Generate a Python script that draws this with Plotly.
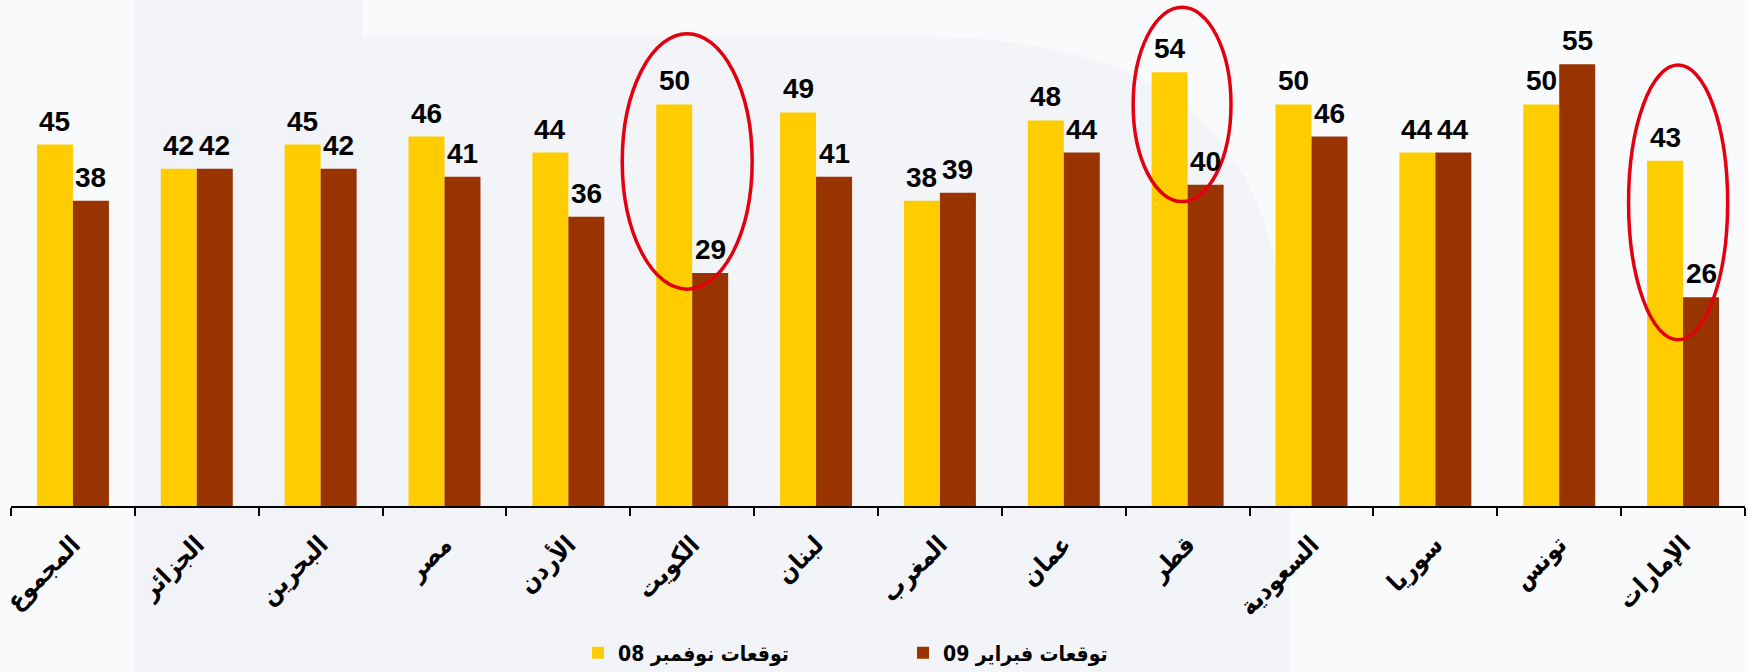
import plotly.graph_objects as go

# ---- data ----
countries = ["المجموع", "الجزائر", "البحرين", "مصر", "الأردن", "الكويت", "لبنان",
             "المغرب", "عمان", "قطر", "السعودية", "سوريا", "تونس", "الإمارات"]
nov08 = [45, 42, 45, 46, 44, 50, 49, 38, 48, 54, 50, 44, 50, 43]
feb09 = [38, 42, 42, 41, 36, 29, 41, 39, 44, 40, 46, 44, 55, 26]
series_names = ["توقعات نوفمبر 08", "توقعات فبراير 09"]
series_colors = ["#FFCC00", "#993300"]

# highlighted groups (category index range, value range)
highlight_x0 = [4.435, 8.56, 12.56]
highlight_x1 = [5.484, 9.35, 13.36]
highlight_y0 = [27.0, 37.9, 20.7]
highlight_y1 = [58.8, 62.1, 54.9]

# ---- layout geometry ----
W, H = 1748, 672
ML, MR, MT, MB = 11, 3, 0, 166
BARGAP = 0.419
plot_w = W - ML - MR
plot_h = H - MT - MB
cat_px = plot_w / len(countries)
bar_px = cat_px * (1 - BARGAP) / 2

FONT = "Liberation Sans, Arial, DejaVu Sans, sans-serif"
AFONT = "DejaVu Sans Condensed, DejaVu Sans, sans-serif"

fig = go.Figure()
for name, vals, col in zip(series_names, [nov08, feb09], series_colors):
    fig.add_trace(go.Bar(
        x=countries, y=vals, name="\u202b" + name + "\u202c",
        marker=dict(color=col, line=dict(width=0)),
        hoverinfo="x+y",
    ))

# value labels
annotations = []
for k, vals in enumerate([nov08, feb09]):
    shift = (-0.5 if k == 0 else 0.5) * bar_px
    for c, v in zip(countries, vals):
        annotations.append(dict(
            x=c, y=v, xref="x", yref="y", text=str(v), showarrow=False,
            xanchor="center", yanchor="bottom", xshift=shift, yshift=6,
            font=dict(size=28, color="black", family=FONT, weight="bold"),
        ))

shapes = []


def px2paper(px, py):
    return (px - ML) / plot_w, (H - MB - py) / plot_h


# subtle background watermark
bx0, by0 = px2paper(135, 0)
bx1, by1 = px2paper(362, H)
shapes.append(dict(type="rect", xref="paper", yref="paper", x0=bx0, x1=bx1,
                   y0=by1, y1=by0, fillcolor="#f1f3f8", line=dict(width=0),
                   layer="below"))
# bowl shape
p = [px2paper(362, 36), px2paper(900, 36), px2paper(1290, 420),
     px2paper(1290, H), px2paper(362, H)]
c1 = px2paper(1200, 36)
c2 = px2paper(1290, 150)
path = (f"M {p[0][0]},{p[0][1]} L {p[1][0]},{p[1][1]} "
        f"C {c1[0]},{c1[1]} {c2[0]},{c2[1]} {p[2][0]},{p[2][1]} "
        f"L {p[3][0]},{p[3][1]} L {p[4][0]},{p[4][1]} Z")
shapes.append(dict(type="path", xref="paper", yref="paper", path=path,
                   fillcolor="#f2f4f8", line=dict(width=0), layer="below"))

for x0, x1, y0, y1 in zip(highlight_x0, highlight_x1, highlight_y0, highlight_y1):
    shapes.append(dict(type="circle", xref="x", yref="y", x0=x0, x1=x1,
                       y0=y0, y1=y1, line=dict(color="#e3000f", width=3.5),
                       fillcolor="rgba(0,0,0,0)", layer="above"))

fig.update_layout(
    width=W, height=H,
    margin=dict(l=ML, r=MR, t=MT, b=MB, pad=0, autoexpand=False),
    paper_bgcolor="#f9fafc",
    plot_bgcolor="rgba(0,0,0,0)",
    barmode="group", bargap=BARGAP, bargroupgap=0,
    showlegend=True,
    legend=dict(orientation="h", x=(578 - ML) / plot_w, xanchor="left",
                y=-(653 - (H - MB)) / plot_h, yanchor="middle",
                entrywidth=280, entrywidthmode="pixels",
                font=dict(size=21, color="black", family=AFONT, weight="bold"),
                bgcolor="rgba(0,0,0,0)", itemsizing="constant"),
    annotations=annotations,
    shapes=shapes,
    xaxis=dict(
        type="category", showline=True, linecolor="black", linewidth=2,
        ticks="outside", tickson="boundaries", ticklen=8, tickwidth=1.5,
        tickcolor="black", tickangle=-45, showgrid=False, zeroline=False,
        ticklabelstandoff=12, automargin=False,
        tickfont=dict(size=25, color="black", family=AFONT, weight="bold"),
    ),
    yaxis=dict(visible=False, range=[0, 63], showgrid=False, zeroline=False,
               automargin=False),
)

fig.write_html(
    "out.html",
    config={"displayModeBar": False},
    post_script="document.body.style.margin='0';document.body.style.background='#f9fafc';",
)
